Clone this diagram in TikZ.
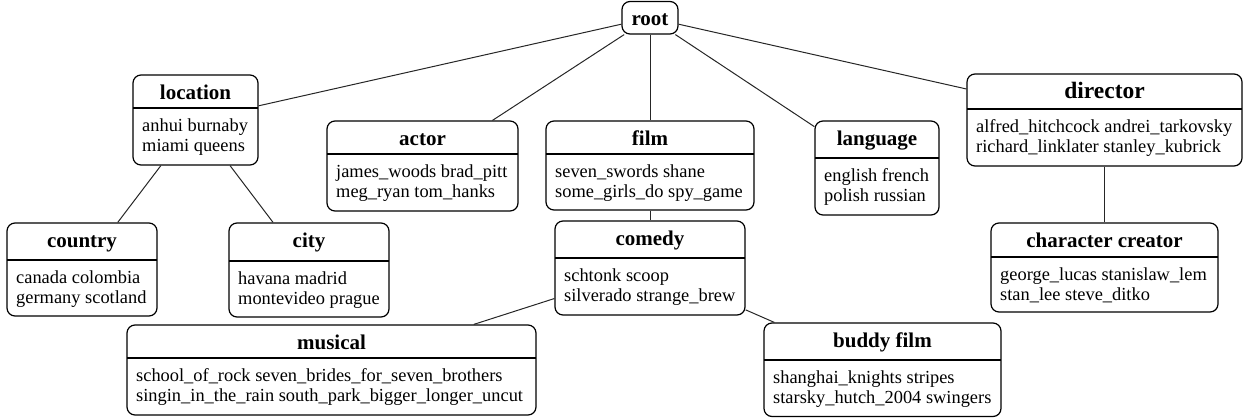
\documentclass[tikz,border=0pt]{standalone}
\usepackage{fontspec}
\setmainfont{Liberation Serif}
\usetikzlibrary{fit}
\tikzset{
  umlbox/.style={draw, rounded corners=8pt, line width=1.2pt, inner sep=0pt},
  divline/.style={line width=1.1pt},
  hdr/.style={anchor=base, inner sep=0pt, font=\fontsize{21}{24}\selectfont\bfseries},
  bodyline/.style={anchor=base west, inner sep=0pt, font=\fontsize{18.4}{21}\selectfont},
  edge/.style={line width=1pt, draw=black!85},
}
% name, left, top, right, bottom, divider, header, line1, line2
\newcommand\umlnode[9]{%
  \node[umlbox, fit={(#2,#3) (#4,#5)}] (#1) {};
  \node[hdr] (#1-h) at ({(#2+#4)/2},#3+24) {#7};
  \draw[divline] (#2,#6) -- (#4,#6);
  \node[bodyline] (#1-b1) at (#2+9,#6+23) {#8};
  \node[bodyline] (#1-b2) at (#2+9,#6+43.5) {#9};
}
\begin{document}
\begin{tikzpicture}[x=1pt,y=-1pt]
\useasboundingbox (0,0) rectangle (1245,418);
% root
\node[umlbox, fit={(622,1.5) (678,34)}] (root) {};
\node[hdr] (root-h) at (650,25) {root};
% first level
\umlnode{location}{133}{75}{258}{165}{108}{location}{anhui burnaby}{miami queens}
\umlnode{actor}{327}{121}{518}{211}{154}{actor}{james\_woods brad\_pitt}{meg\_ryan tom\_hanks}
\umlnode{film}{546}{121}{754}{210}{154}{film}{seven\_swords shane}{some\_girls\_do spy\_game}
\umlnode{language}{815}{121}{939}{215}{158}{language}{english french}{polish russian}
\umlnode{director}{967}{74}{1242}{166}{109}{\fontsize{23.5}{26}\selectfont director}{alfred\_hitchcock andrei\_tarkovsky}{richard\_linklater stanley\_kubrick}
% second level
\umlnode{country}{7}{223}{157}{316}{260}{country}{canada colombia}{germany scotland}
\umlnode{city}{229}{223}{389}{317}{261}{city}{havana madrid}{montevideo prague}
\umlnode{comedy}{555}{221}{745}{315}{258}{comedy}{schtonk scoop}{silverado strange\_brew}
\umlnode{creator}{991}{223}{1218}{312}{257}{character creator}{george\_lucas stanislaw\_lem}{stan\_lee steve\_ditko}
% third level
\umlnode{musical}{127}{325}{536}{415}{358}{musical}{school\_of\_rock seven\_brides\_for\_seven\_brothers}{singin\_in\_the\_rain south\_park\_bigger\_longer\_uncut}
\umlnode{buddy}{764}{323}{1001}{416.5}{360}{buddy film}{shanghai\_knights stripes}{starsky\_hutch\_2004 swingers}
% connectors
\draw[edge] (root) -- (location);
\draw[edge] (root) -- (actor);
\draw[edge] (root) -- (film);
\draw[edge] (root) -- (language);
\draw[edge] (root) -- (director);
\draw[edge] (location) -- (country);
\draw[edge] (location) -- (city);
\draw[edge] (film) -- (comedy);
\draw[edge] (comedy) -- (musical);
\draw[edge] (comedy) -- (buddy);
\draw[edge] (director) -- (creator);
\end{tikzpicture}
\end{document}
